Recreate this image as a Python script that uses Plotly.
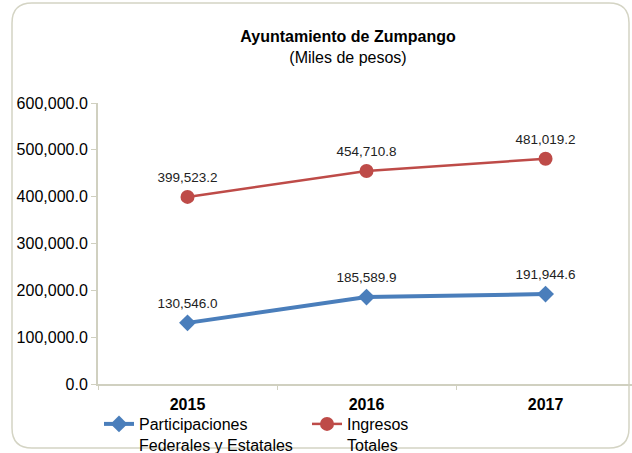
import plotly.graph_objects as go

years = ["2015", "2016", "2017"]
participaciones = [130546.0, 185589.9, 191944.6]
ingresos = [399523.2, 454710.8, 481019.2]
series_names = ["Participaciones<br>Federales y Estatales", "Ingresos<br>Totales"]
ytick_vals = [0, 100000, 200000, 300000, 400000, 500000, 600000]
ytick_text = ["0.0", "100,000.0", "200,000.0", "300,000.0", "400,000.0", "500,000.0", "600,000.0"]

W, H = 632, 453
L, R, T, B = 98, 632, 103, 384
FONT = "Liberation Sans, Arial"

def px(x):
    return (x - L) / (R - L)

def py(y):
    return (B - y) / (B - T)

fig = go.Figure()
fig.add_trace(go.Scatter(
    x=years, y=participaciones, name=series_names[0],
    mode="lines+markers",
    line=dict(color="#4A7EBB", width=4),
    marker=dict(symbol="diamond", size=13, color="#4A7EBB"),
    cliponaxis=False,
))
fig.add_trace(go.Scatter(
    x=years, y=ingresos, name=series_names[1],
    mode="lines+markers",
    line=dict(color="#BE4B48", width=2.5),
    marker=dict(symbol="circle", size=14, color="#BE4B48"),
    cliponaxis=False,
))

for series in (participaciones, ingresos):
    fig.add_trace(go.Scatter(
        x=years, y=series, mode="markers+text", showlegend=False,
        marker=dict(size=17, color="rgba(0,0,0,0)"),
        text=[f"{v:,.1f}" for v in series], textposition="top center",
        textfont=dict(family=FONT, size=13.5, color="#222222"),
        hoverinfo="skip", cliponaxis=False,
    ))

# rounded frame
x0, y0, x1, y1, r = px(12), py(3), px(629), py(448), 20
rx = r / (R - L)
ry = r / (B - T)
path = (f"M {x0+rx},{y0} L {x1-rx},{y0} Q {x1},{y0} {x1},{y0-ry} "
        f"L {x1},{y1+ry} Q {x1},{y1} {x1-rx},{y1} L {x0+rx},{y1} "
        f"Q {x0},{y1} {x0},{y1+ry} L {x0},{y0-ry} Q {x0},{y0} {x0+rx},{y0} Z")
fig.add_shape(type="path", path=path, xref="paper", yref="paper",
              line=dict(color="#D4D4C4", width=1.5), layer="below")

fig.update_layout(
    width=W, height=H,
    margin=dict(l=L, r=W - R, t=T, b=H - B),
    paper_bgcolor="white", plot_bgcolor="white",
    font=dict(family=FONT, size=16, color="#000000"),
    title=dict(
        text="<b>Ayuntamiento de Zumpango</b><br>(Miles de pesos)",
        x=348 / W, xanchor="center", y=1 - 42 / H, yanchor="middle",
        font=dict(size=16, color="#000000"), automargin=False,
    ),
    xaxis=dict(
        type="category", range=[-0.5, 2.483], automargin=False,
        showline=True, linecolor="#D0D0C0", linewidth=2,
        ticks="outside", tickson="boundaries", ticklen=4, tickcolor="#D0D0C0",
        tickfont=dict(size=16, color="#000000", family=FONT),
        tickprefix="<b>", ticksuffix="</b>", ticklabelstandoff=5,
        showgrid=False, zeroline=False,
    ),
    yaxis=dict(
        range=[0, 600000], tickvals=ytick_vals, ticktext=ytick_text,
        automargin=False,
        showline=True, linecolor="#D0D0C0", linewidth=2,
        ticks="outside", ticklen=5, tickcolor="#D0D0C0",
        tickfont=dict(size=16, color="#000000"),
        showgrid=False, zeroline=False,
    ),
    showlegend=True,
    legend=dict(
        orientation="h", xref="container", yref="container",
        x=99 / W, xanchor="left", y=1 - 407 / H, yanchor="top",
        font=dict(size=16, color="#000000"),
        entrywidth=163, entrywidthmode="pixels", valign="top",
        bgcolor="rgba(0,0,0,0)",
    ),
)

fig.write_html("out.html", config={"displayModeBar": False},
               post_script="document.body.style.margin='0';")
